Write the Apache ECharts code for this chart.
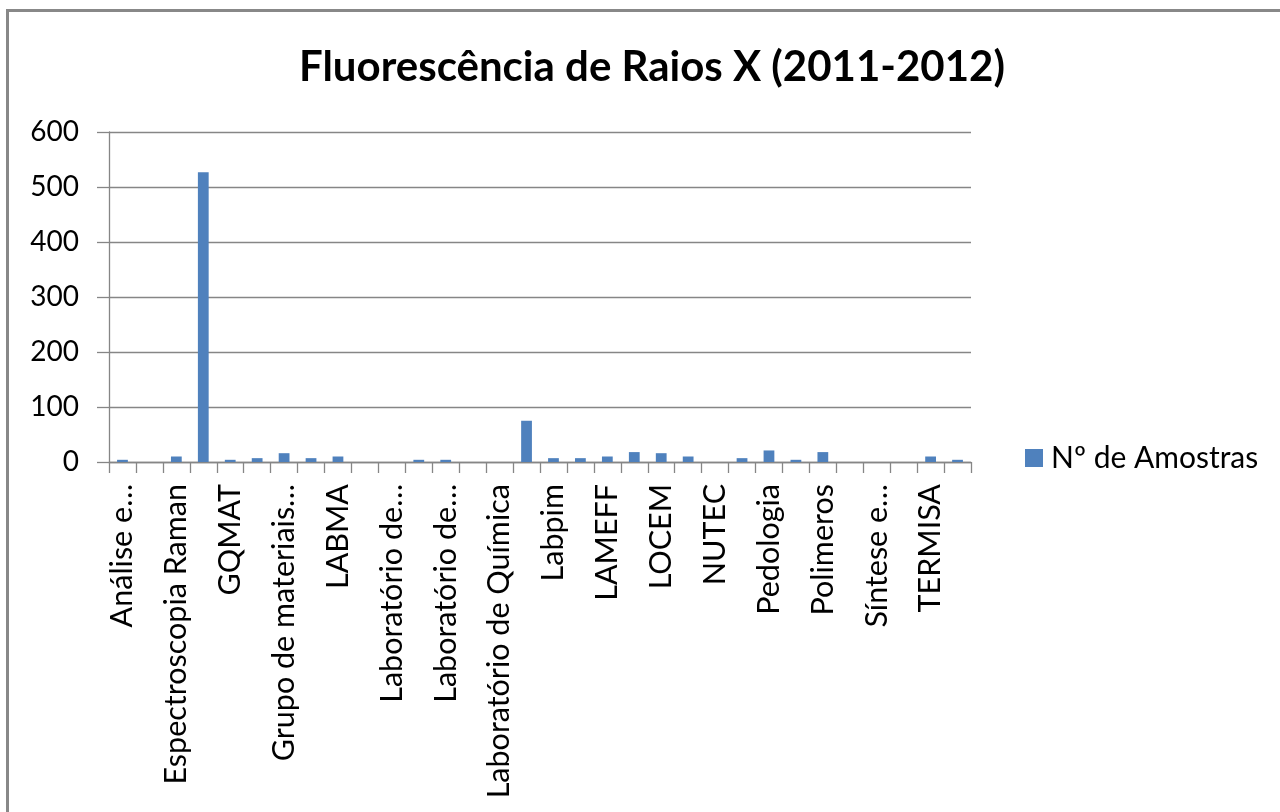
<!DOCTYPE html>
<html><head><meta charset="utf-8">
<script src="https://cdn.jsdelivr.net/npm/echarts@6/dist/echarts.min.js"></script>
<style>html,body{margin:0;padding:0;background:#fff}#c{width:1280px;height:812px}</style>
</head><body><div id="c"></div>
<script>
const titleText = 'Fluorescência de Raios X (2011-2012)';
const seriesName = 'Nº de Amostras';
const categories = [
  'Análise e…', '', 'Espectroscopia Raman', '', 'GQMAT', '', 'Grupo de materiais…', '',
  'LABMA', '', 'Laboratório de…', '', 'Laboratório de…', '', 'Laboratório de Química', '',
  'Labpim', '', 'LAMEFF', '', 'LOCEM', '', 'NUTEC', '', 'Pedologia', '', 'Polimeros', '',
  'Síntese e…', '', 'TERMISA', ''
];
const amostras = [
  4, 0, 10, 527, 4, 7, 16, 7,
  10, 0, 0, 4, 4, 0, 0, 75,
  7, 7, 10, 18, 16, 10, 0, 7,
  21, 4, 18, 0, 0, 0, 10, 4
];
const yTicks = [0, 100, 200, 300, 400, 500, 600];

const chart = echarts.init(document.getElementById('c'), null, {renderer: 'canvas'});
const FONT = 'Lato';
chart.setOption({
  animation: false,
  backgroundColor: '#fff',
  textStyle: {fontFamily: FONT},
  title: {
    text: titleText,
    left: 299,
    top: 46,
    padding: 0,
    textStyle: {fontFamily: FONT, fontSize: 42, fontWeight: 'bold', color: '#000'}
  },
  legend: {
    data: [seriesName],
    left: 1025,
    top: 443,
    padding: 0,
    icon: 'rect',
    itemWidth: 18,
    itemHeight: 18,
    textStyle: {fontFamily: FONT, fontSize: 30, color: '#000', padding: [0, 0, 0, 3]}
  },
  grid: {left: 109, right: 309, top: 132, bottom: 350, containLabel: false},
  xAxis: {
    type: 'category',
    data: categories,
    boundaryGap: true,
    axisLine: {lineStyle: {color: '#868686', width: 1.3}},
    axisTick: {show: true, interval: 0, length: 11, lineStyle: {color: '#868686', width: 1.3}},
    axisLabel: {interval: 1, rotate: 90, margin: 22, fontFamily: FONT, fontSize: 30.5, color: '#000'},
    splitLine: {show: false}
  },
  yAxis: {
    type: 'value',
    min: yTicks[0],
    max: yTicks[yTicks.length - 1],
    interval: 100,
    axisLine: {show: true, lineStyle: {color: '#868686', width: 1.3}},
    axisTick: {show: true, length: 12, lineStyle: {color: '#868686', width: 1.3}},
    axisLabel: {margin: 30, fontFamily: FONT, fontSize: 28, color: '#000'},
    splitLine: {lineStyle: {color: '#868686', width: 1.3}}
  },
  series: [{
    name: seriesName,
    type: 'bar',
    data: amostras,
    barWidth: '40%',
    itemStyle: {color: '#4F81BD'}
  }],
  graphic: [{
    type: 'rect',
    silent: true,
    shape: {x: 7.5, y: 10.5, width: 1400, height: 1000},
    style: {fill: 'none', stroke: '#888888', lineWidth: 3}
  }]
});
</script></body></html>
